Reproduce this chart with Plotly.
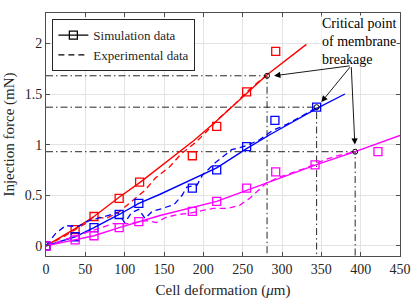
import plotly.graph_objects as go

# ---------------- data ----------------
# simulation squares
red_sim_x = [0, 37, 61, 93, 119, 186, 217, 255, 292]
red_sim_y = [0, 0.16, 0.29, 0.47, 0.63, 0.89, 1.18, 1.52, 1.92]
blue_sim_x = [0, 37, 61, 93, 118, 186, 217, 255, 291, 344]
blue_sim_y = [0, 0.09, 0.18, 0.31, 0.42, 0.57, 0.75, 0.98, 1.24, 1.37]
mag_sim_x = [0, 37, 61, 93, 118, 186, 217, 255, 292, 342, 422]
mag_sim_y = [0, 0.06, 0.10, 0.18, 0.24, 0.34, 0.44, 0.57, 0.73, 0.80, 0.93]

# simulation (solid) lines
red_fit_x = [0, 37, 61, 93, 120, 150, 188, 215, 250, 281, 331]
red_fit_y = [0, 0.17, 0.29, 0.48, 0.63, 0.81, 1.04, 1.22, 1.47, 1.69, 1.99]
blue_fit_x = [0, 37, 61, 93, 118, 145, 217, 255, 285, 345, 380]
blue_fit_y = [0, 0.09, 0.18, 0.31, 0.42, 0.51, 0.77, 0.96, 1.10, 1.36, 1.50]
mag_fit_x = [0, 37, 61, 93, 118, 145, 217, 255, 343, 393, 450]
mag_fit_y = [0, 0.06, 0.10, 0.18, 0.24, 0.30, 0.44, 0.55, 0.80, 0.93, 1.09]

# experimental (dashed) curves
red_exp_x = [0, 20, 37, 50, 61, 76, 92, 107, 126, 139, 157, 172, 190, 203, 220, 240, 255, 270, 280]
red_exp_y = [0, 0.08, 0.16, 0.22, 0.29, 0.27, 0.33, 0.43, 0.55, 0.67, 0.78, 0.91, 1.02, 1.12,
             1.26, 1.40, 1.52, 1.62, 1.68]
blue_exp_x = [0, 12, 25, 40, 55, 75, 91, 100, 109, 118, 126, 135, 148, 163, 173, 179, 192, 199,
              215, 236, 255, 272, 288, 306, 327, 345]
blue_exp_y = [0, 0.12, 0.20, 0.19, 0.25, 0.29, 0.33, 0.23, 0.33, 0.36, 0.27, 0.34, 0.37, 0.41,
              0.50, 0.58, 0.60, 0.70, 0.82, 0.95, 0.99, 1.05, 1.14, 1.20, 1.29, 1.37]
mag_exp_x = [0, 20, 40, 55, 69, 86, 107, 128, 140, 152, 167, 182, 199, 213, 230, 246, 259, 270,
             280, 297, 312, 331, 354, 370, 393]
mag_exp_y = [0, 0.05, 0.10, 0.14, 0.18, 0.22, 0.22, 0.25, 0.23, 0.28, 0.31, 0.32, 0.35, 0.37,
             0.37, 0.40, 0.47, 0.55, 0.62, 0.68, 0.72, 0.77, 0.85, 0.89, 0.93]

# critical points of membrane breakage
crit_x = [281, 344, 393]
crit_y = [1.68, 1.37, 0.93]

x_ticks = [0, 50, 100, 150, 200, 250, 300, 350, 400, 450]
y_ticks = [0, 0.5, 1, 1.5, 2]
y_tick_text = ["0", "0.5", "1", "1.5", "2"]

RED, BLUE, MAG = "#ff0000", "#0000ff", "#ff00ff"
FONT = "Liberation Serif, Times New Roman, Tinos, DejaVu Serif, serif"
EXP_DASH = "6px,4px"
DD = "7px,3px,1.5px,3px"
Y_MIN = -0.1
TXT = "#262626"

fig = go.Figure()

# legend-only traces
fig.add_trace(go.Scatter(x=[None], y=[None], mode="lines+markers", name="Simulation data",
                         line=dict(color="black", width=1.3),
                         marker=dict(symbol="square-open", size=8, color="black",
                                     line=dict(width=1.3))))
fig.add_trace(go.Scatter(x=[None], y=[None], mode="lines", name="Experimental data",
                         line=dict(color="black", width=1.3, dash=EXP_DASH)))

# dash-dot guide lines
for cx, cy in zip(crit_x, crit_y):
    fig.add_trace(go.Scatter(x=[0, cx, cx], y=[cy, cy, Y_MIN], mode="lines", showlegend=False,
                             line=dict(color="#262626", width=1, dash=DD), hoverinfo="skip"))

for fx, fy, ex, ey, sx, sy, c in [
    (red_fit_x, red_fit_y, red_exp_x, red_exp_y, red_sim_x, red_sim_y, RED),
    (blue_fit_x, blue_fit_y, blue_exp_x, blue_exp_y, blue_sim_x, blue_sim_y, BLUE),
    (mag_fit_x, mag_fit_y, mag_exp_x, mag_exp_y, mag_sim_x, mag_sim_y, MAG),
]:
    fig.add_trace(go.Scatter(x=ex, y=ey, mode="lines", showlegend=False,
                             line=dict(color=c, width=1.3, dash=EXP_DASH)))
    fig.add_trace(go.Scatter(x=fx, y=fy, mode="lines", showlegend=False,
                             line=dict(color=c, width=1.4)))
    fig.add_trace(go.Scatter(x=sx, y=sy, mode="markers", showlegend=False,
                             marker=dict(symbol="square-open", size=8, color=c,
                                         line=dict(width=1.3))))

# critical point circles
fig.add_trace(go.Scatter(x=crit_x, y=crit_y, mode="markers", showlegend=False,
                         marker=dict(symbol="circle-open", size=5, color="black",
                                     line=dict(width=1))))

# annotation text and arrows
fig.add_annotation(x=349, y=2.285, xref="x", yref="y", xanchor="left", yanchor="top",
                   align="left", showarrow=False, bgcolor="white", borderpad=0,
                   text="Critical point<br>of membrane<br>breakage",
                   font=dict(family=FONT, size=14, color="black"))
tail_x, tail_y = 388, 1.78
heads = [(290, 1.68), (350, 1.42), (392.6, 1.0)]
for hx, hy in heads:
    fig.add_annotation(x=hx, y=hy, xref="x", yref="y", ax=tail_x, ay=tail_y,
                       axref="x", ayref="y", showarrow=True, arrowhead=2, arrowsize=1.4,
                       arrowwidth=0.9, arrowcolor="black", text="")

fig.update_layout(
    width=415, height=299,
    margin=dict(l=46, r=15, t=13, b=43),
    paper_bgcolor="white", plot_bgcolor="white",
    font=dict(family=FONT, size=14, color=TXT),
    legend=dict(x=0.018, y=0.975, xanchor="left", yanchor="top",
                bgcolor="white", bordercolor=TXT, borderwidth=1,
                font=dict(family=FONT, size=13, color=TXT),
                itemwidth=30, tracegroupgap=0),
)
fig.update_xaxes(range=[0, 450], tickvals=x_ticks, ticks="inside", ticklen=4,
                 tickcolor="#4d4d4d", showline=True, linecolor="#4d4d4d", linewidth=1,
                 mirror="ticks", showgrid=True, gridcolor="#e3e3e3", gridwidth=1,
                 zeroline=False, automargin=False,
                 tickfont=dict(family=FONT, size=14, color=TXT),
                 title=dict(text="Cell deformation (<i>μ</i>m)",
                            font=dict(family=FONT, size=15, color=TXT), standoff=8))
fig.update_yaxes(range=[Y_MIN, 2.3], tickvals=y_ticks, ticktext=y_tick_text, ticks="inside",
                 ticklen=4, tickcolor="#4d4d4d", showline=True, linecolor="#4d4d4d",
                 linewidth=1, mirror="ticks", showgrid=True, gridcolor="#e3e3e3", gridwidth=1,
                 zeroline=False, automargin=False,
                 tickfont=dict(family=FONT, size=14, color=TXT),
                 title=dict(text="Injection force (mN)",
                            font=dict(family=FONT, size=15, color=TXT), standoff=6))

fig.write_html("out.html", config={"displayModeBar": False},
               post_script="document.body.style.margin='0';document.body.style.padding='0';")
